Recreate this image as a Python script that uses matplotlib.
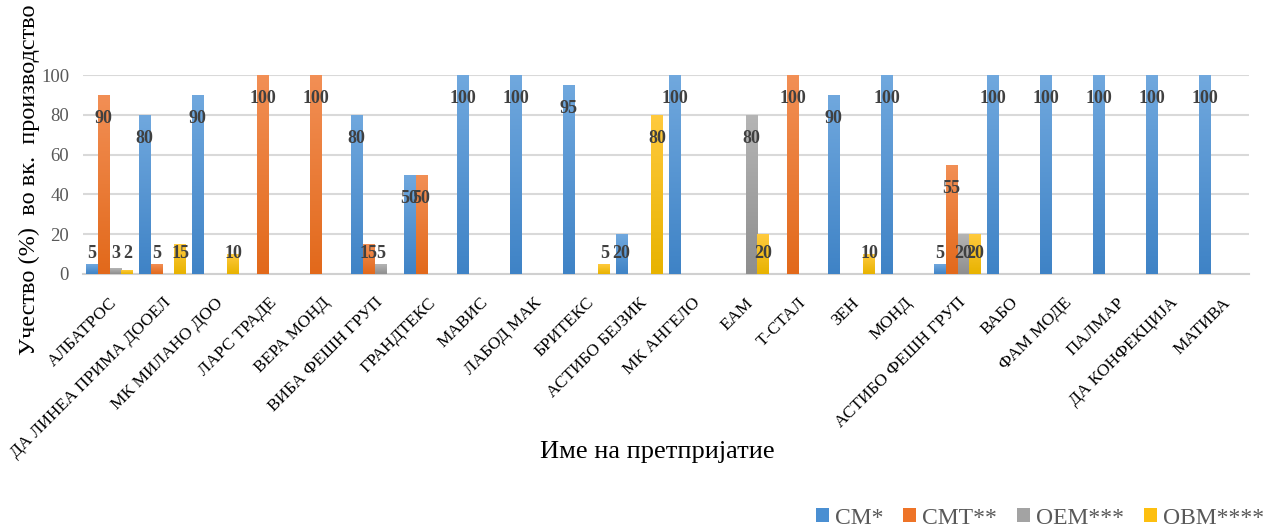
import matplotlib
matplotlib.use("Agg")
import matplotlib.pyplot as plt
import numpy as np
from matplotlib.colors import LinearSegmentedColormap
from matplotlib.patches import Patch

plt.rcParams['font.family'] = ['Liberation Serif', 'DejaVu Serif']

categories = ["АЛБАТРОС", "ДА ЛИНЕА ПРИМА ДООЕЛ", "МК МИЛАНО ДОО", "ЛАРС ТРАДЕ",
              "ВЕРА МОНД", "ВИБА ФЕШН ГРУП", "ГРАНДТЕКС", "МАВИС", "ЛАБОД МАК",
              "БРИТЕКС", "АСТИБО БЕЈЗИК", "МК АНГЕЛО", "ЕАМ", "Т-СТАЛ", "ЗЕН",
              "МОНД", "АСТИБО ФЕШН ГРУП", "ВАБО", "ФАМ МОДЕ", "ПАЛМАР",
              "ДА КОНФЕКЦИЈА", "МАТИВА"]
cm =  [5, 80, 90, 0, 0, 80, 50, 100, 100, 95, 20, 100, 0, 0, 90, 100, 5, 100, 100, 100, 100, 100]
cmt = [90, 5, 0, 100, 100, 15, 50, 0, 0, 0, 0, 0, 0, 100, 0, 0, 55, 0, 0, 0, 0, 0]
oem = [3, 0, 0, 0, 0, 5, 0, 0, 0, 0, 0, 0, 80, 0, 0, 0, 20, 0, 0, 0, 0, 0]
obm = [2, 15, 10, 0, 0, 0, 0, 0, 0, 5, 80, 0, 20, 0, 10, 0, 20, 0, 0, 0, 0, 0]
series_names = ["CM*", "CMT**", "OEM***", "OBM****"]
series = [cm, cmt, oem, obm]

base_colors = ["#4a8fd2", "#ee7428", "#a3a3a3", "#fdbf0f"]
grad = [("#70a8de", "#3f83c6"), ("#f28f55", "#e2691b"),
        ("#b5b5b5", "#8e8e8e"), ("#ffca3e", "#e8b300")]

fig = plt.figure(figsize=(12.63, 5.28), dpi=100)
ax = fig.add_axes([83/1263, 1-274/528, (1249-83)/1263, (274-75)/528])

x = np.arange(len(categories))
w = 0.225
for i, (vals, name) in enumerate(zip(series, series_names)):
    offs = (i - 1.5) * w
    bars = ax.bar(x + offs, vals, width=w, color=base_colors[i], zorder=3, linewidth=0)
    cmap = LinearSegmentedColormap.from_list("g%d" % i, [grad[i][1], grad[i][0]])
    for b, v in zip(bars, vals):
        if v <= 0:
            continue
        x0 = b.get_x()
        img = ax.imshow(np.linspace(0, 1, 64).reshape(-1, 1), cmap=cmap, origin='lower',
                        extent=[x0, x0 + w, 0, v], aspect='auto', zorder=3.5,
                        interpolation='bicubic')
        img.set_clip_path(b)
    for xi, v in zip(x, vals):
        if v <= 0:
            continue
        ax.text(xi + offs, max(v - 12, 10.5), "%d" % v, ha='center', va='center',
                fontsize=13, fontweight='bold', color='#404040', zorder=5)

ax.set_xlim(-0.5, len(categories) - 0.5)
ax.set_ylim(0, 100)
ax.set_yticks(np.arange(0, 101, 20))
ax.grid(axis='y', color='#d9d9d9', linewidth=1.5, zorder=0)
ax.set_axisbelow(True)
for s in ['top', 'right', 'left']:
    ax.spines[s].set_visible(False)
ax.spines['bottom'].set_color('#d0d0d0')
ax.spines['bottom'].set_linewidth(1.5)
ax.tick_params(axis='y', length=0, pad=10, labelsize=13.5, labelcolor='#595959')
ax.tick_params(axis='x', length=0, pad=15)
ax.set_xticks(x)
ax.set_xticklabels(categories, rotation=45, ha='right', rotation_mode='anchor',
                   fontsize=12.5, color='black')

fig.text(657/1263, 1-452/528, "Име на претпријатие", ha='center', va='center',
         fontsize=19, color='black')
fig.text(29/1263, 1-180/528, "Учество (%)  во вк.  производство", ha='center', va='center',
         rotation=90, fontsize=17.5, color='black')

handles = [Patch(facecolor=c, edgecolor='none') for c in base_colors]
leg = fig.legend(handles, series_names, loc='center left',
                 bbox_to_anchor=(816/1263, 1-518/528), ncol=4, frameon=False,
                 fontsize=17, handlelength=0.55, handleheight=0.55, handletextpad=0.25,
                 columnspacing=0.85, borderaxespad=0, borderpad=0)
for t in leg.get_texts():
    t.set_color('#595959')

fig.savefig("out.png", dpi=100)
